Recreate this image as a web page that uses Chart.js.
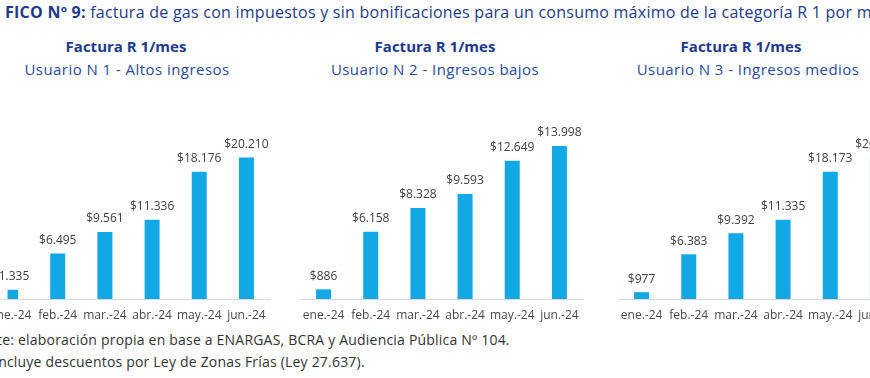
<!DOCTYPE html>
<html>
<head>
<meta charset="utf-8">
<script src="https://cdn.jsdelivr.net/npm/chart.js@4.4.1/dist/chart.umd.min.js"></script>
<style>
  html, body { margin:0; padding:0; width:870px; height:378px; overflow:hidden; background:#fff; }
  body { position:relative; font-family:"Open Sans", sans-serif; }
  .t { position:absolute; white-space:nowrap; }
  #title { left:5px; top:1px; font-size:16px; letter-spacing:0.25px; color:#1d3a8a; }
  #title b { font-weight:700; }
  .h1 { font-weight:700; font-size:15px; color:#1d3a8a; transform:translateX(-50%); top:36px; }
  .h2 { font-weight:400; font-size:15px; letter-spacing:0.45px; color:#2a4b9b; transform:translateX(-50%); top:59px; }
  .foot { font-size:14px; letter-spacing:0.2px; color:#333; }
  .panel { position:absolute; top:100px; height:223px; }
</style>
</head>
<body>
<div id="title" class="t"><b>FICO Nº 9:</b> factura de gas con impuestos y sin bonificaciones para un consumo máximo de la categoría R 1 por mes</div>

<div class="t h1" style="left:126px">Factura R 1/mes</div>
<div class="t h2" style="left:127px">Usuario N 1 - Altos ingresos</div>
<div class="t h1" style="left:435px">Factura R 1/mes</div>
<div class="t h2" style="left:435px">Usuario N 2 - Ingresos bajos</div>
<div class="t h1" style="left:741px">Factura R 1/mes</div>
<div class="t h2" style="left:748px">Usuario N 3 - Ingresos medios</div>

<div class="panel" id="p1"><canvas id="c1"></canvas></div>
<div class="panel" id="p2"><canvas id="c2"></canvas></div>
<div class="panel" id="p3"><canvas id="c3"></canvas></div>

<div id="f1" class="t foot" style="top:330px"><span id="f1a">Fuent</span>e: elaboración propia en base a ENARGAS, BCRA y Audiencia Pública Nº 104.</div>
<div id="f2" class="t foot" style="top:352px"><span id="f2a">I</span>ncluye descuentos por Ley de Zonas Frías (Ley 27.637).</div>

<script>
// ---- data ----
const months = ["ene.-24", "feb.-24", "mar.-24", "abr.-24", "may.-24", "jun.-24"];
const usuario1 = [1335, 6495, 9561, 11336, 18176, 20210];
const usuario2 = [886, 6158, 8328, 9593, 12649, 13998];
const usuario3 = [977, 6383, 9392, 11335, 18173, 20250];
const axisMax1 = 25000;
const axisMax2 = 16000;
const axisMax3 = 25000;

// footer clipping offsets
const f1 = document.getElementById('f1'), f2 = document.getElementById('f2');
f1.style.left = (2 - document.getElementById('f1a').offsetWidth) + 'px';
f2.style.left = (-2 - document.getElementById('f2a').offsetWidth) + 'px';

function fmt(v) {
  return '$' + String(v).replace(/\B(?=(\d{3})+(?!\d))/g, '.');
}

const valueLabels = {
  id: 'valueLabels',
  afterDatasetsDraw(chart) {
    const ctx = chart.ctx;
    const meta = chart.getDatasetMeta(0);
    const data = chart.data.datasets[0].data;
    ctx.save();
    ctx.font = '12px "Open Sans", sans-serif';
    ctx.fillStyle = '#404040';
    ctx.textAlign = 'center';
    ctx.textBaseline = 'middle';
    meta.data.forEach((bar, i) => {
      ctx.fillText(fmt(data[i]), bar.x, bar.y - 13);
    });
    ctx.restore();
  }
};

const PAD = 30;
const AREA_W = 283;

function makeChart(id, panelId, areaLeft, values, max, clipLeft) {
  const p = document.getElementById(panelId);
  p.style.left = (areaLeft - PAD) + 'px';
  p.style.width = (AREA_W + 2 * PAD) + 'px';
  new Chart(document.getElementById(id), {
    type: 'bar',
    data: {
      labels: months,
      datasets: [{
        data: values,
        backgroundColor: '#12a8e6',
        barPercentage: 0.318,
        categoryPercentage: 1.0,
        clip: { left: clipLeft, top: 40, right: 40, bottom: 10 }
      }]
    },
    options: {
      responsive: true,
      maintainAspectRatio: false,
      animation: false,
      layout: { padding: { left: PAD, right: PAD, top: 24, bottom: 0 } },
      plugins: { legend: { display: false }, tooltip: { enabled: false } },
      scales: {
        x: {
          grid: { display: false, drawTicks: false },
          border: { display: true, color: '#d9d9d9', width: 1 },
          ticks: {
            color: '#4a4a4a',
            font: { family: '"Open Sans", sans-serif', size: 12 },
            padding: 9, maxRotation: 0, autoSkip: false
          },
          afterFit: s => { s.height = 24; }
        },
        y: { display: false, min: 0, max: max }
      }
    },
    plugins: [valueLabels]
  });
}

makeChart('c1', 'p1', -13.5, usuario1, axisMax1, -20.5);
makeChart('c2', 'p2', 300, usuario2, axisMax2, 10);
makeChart('c3', 'p3', 618, usuario3, axisMax3, 10);
</script>
</body>
</html>
